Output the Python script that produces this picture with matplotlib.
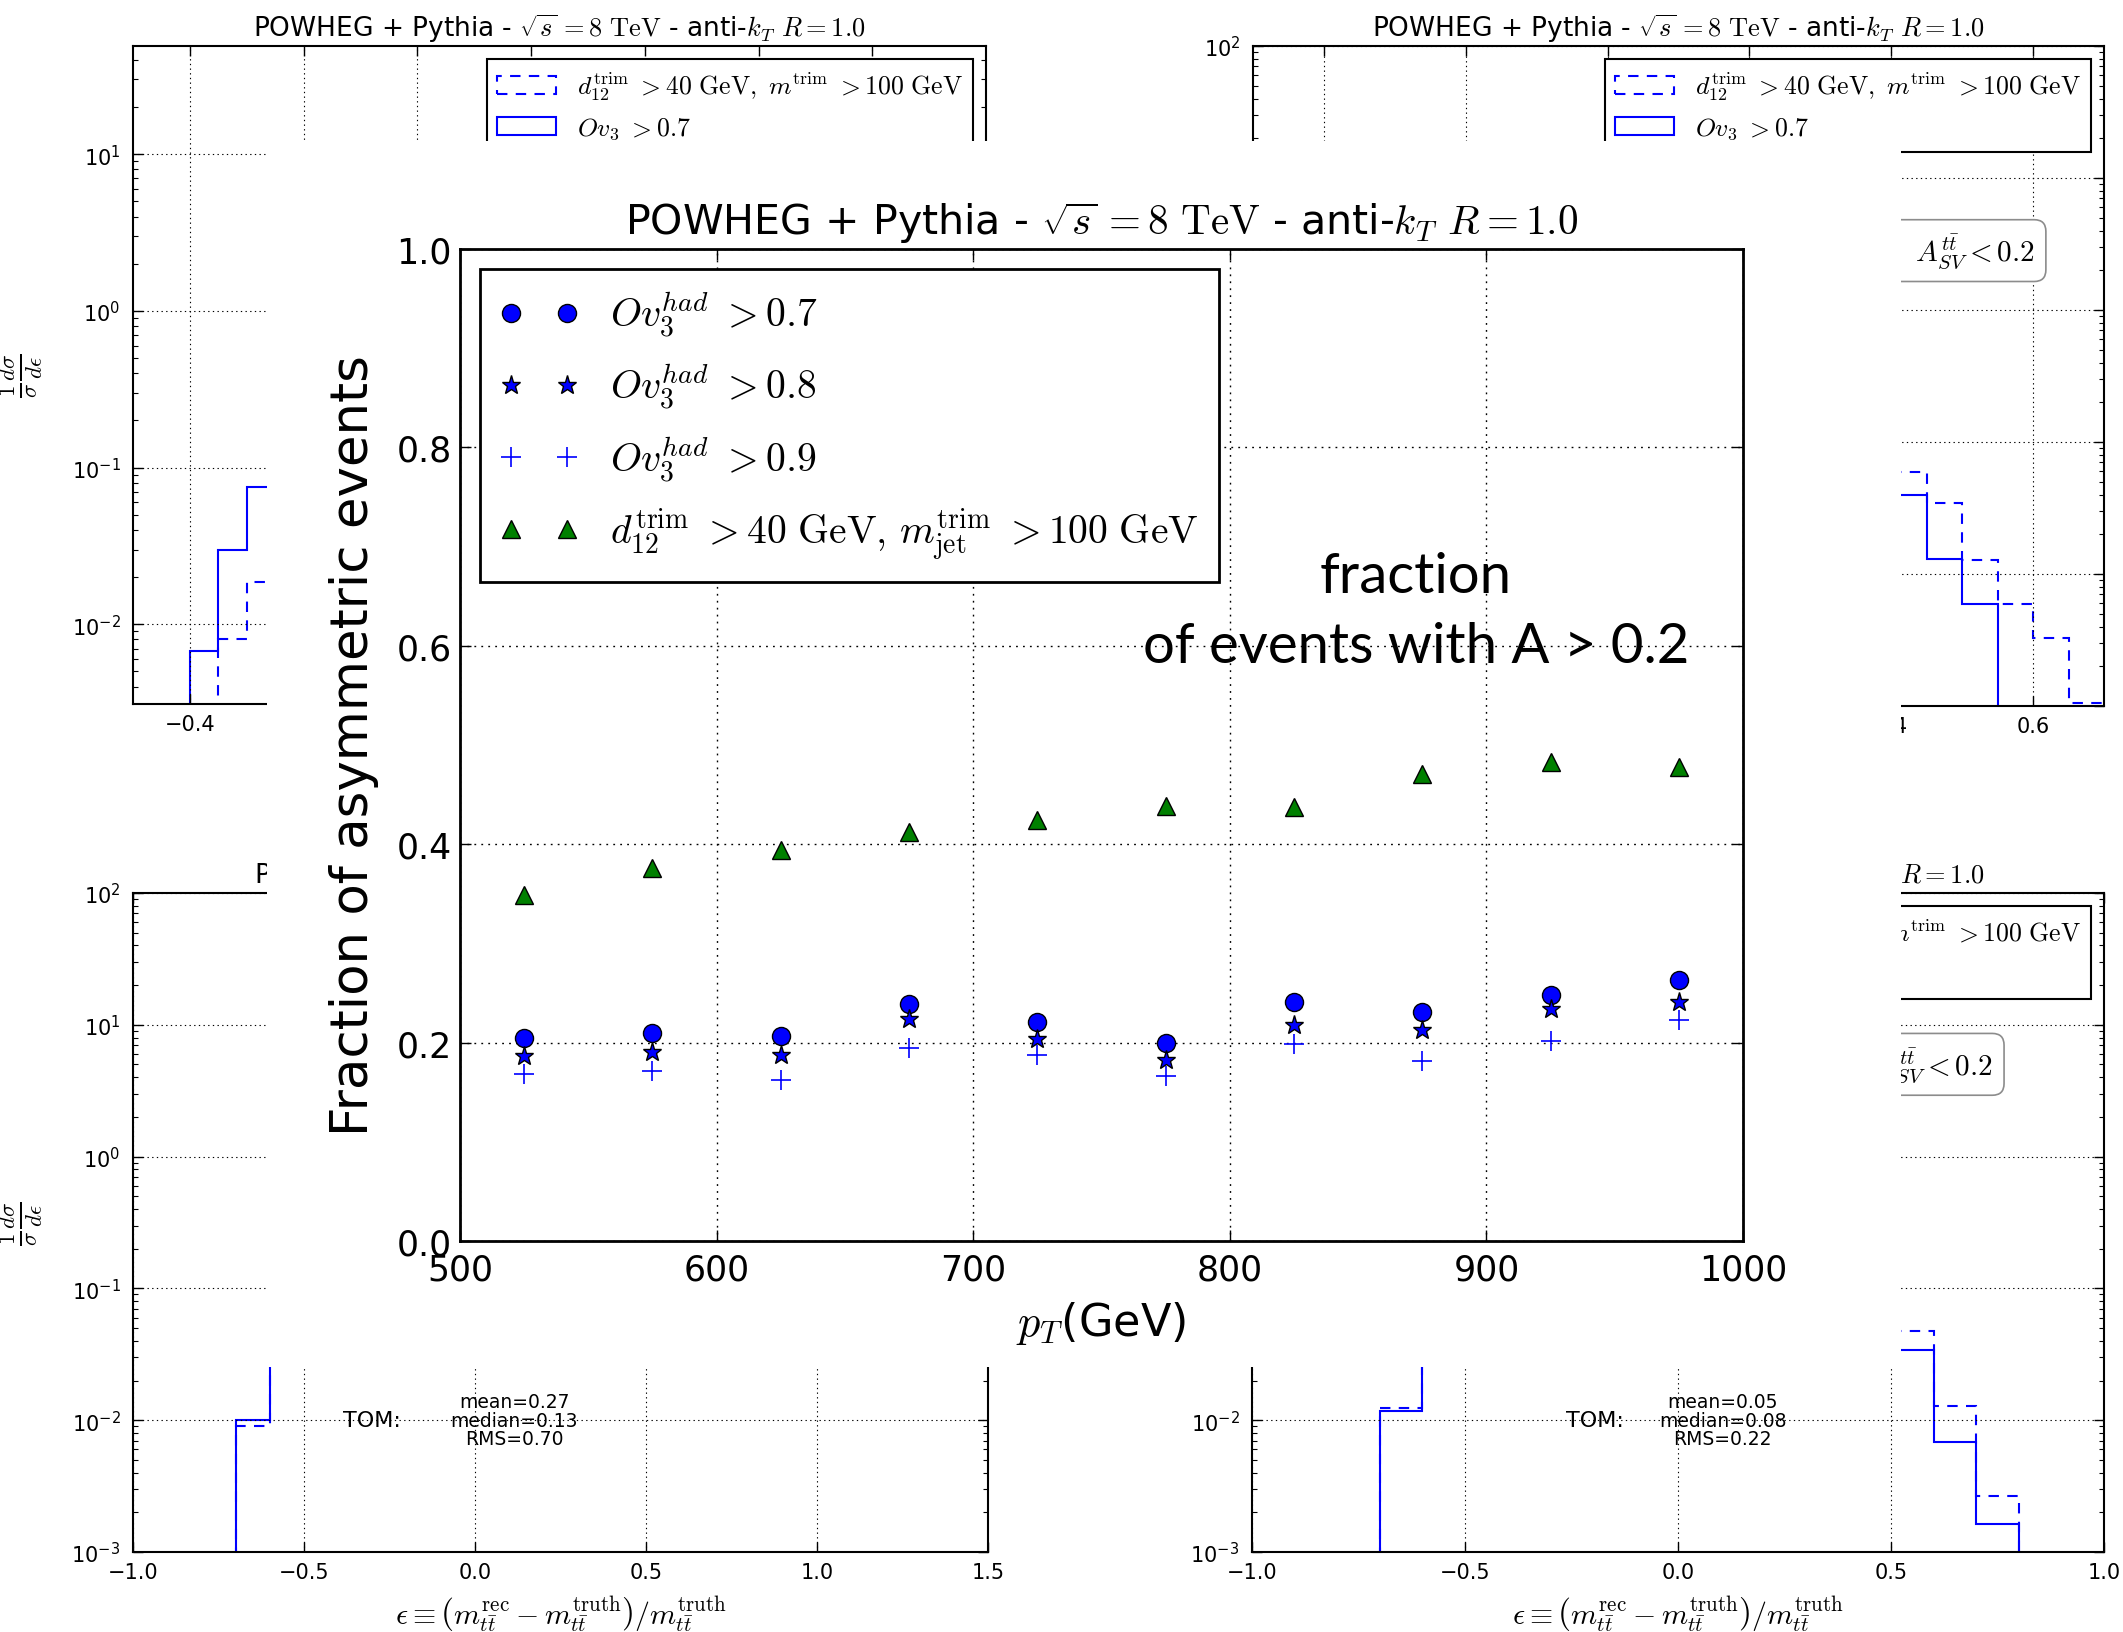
import numpy as np
import matplotlib
matplotlib.use('Agg')
import matplotlib.pyplot as plt
from matplotlib.patches import Rectangle, Patch

plt.rcParams['font.family'] = 'DejaVu Sans'
plt.rcParams['mathtext.fontset'] = 'cm'

# --- main plot: fraction of asymmetric events vs pT ---
pt_centres = [525, 575, 625, 675, 725, 775, 825, 875, 925, 975]
frac_ov07 = [0.205, 0.210, 0.207, 0.239, 0.221, 0.200, 0.241, 0.231, 0.248, 0.263]
frac_ov08 = [0.186, 0.191, 0.188, 0.224, 0.204, 0.182, 0.218, 0.213, 0.234, 0.241]
frac_ov09 = [0.168, 0.171, 0.162, 0.195, 0.188, 0.166, 0.199, 0.181, 0.202, 0.223]
frac_trim = [0.349, 0.376, 0.394, 0.412, 0.424, 0.439, 0.438, 0.471, 0.483, 0.478]

lab_ov07 = r'$Ov_3^{had}\ {>}0.7$'
lab_ov08 = r'$Ov_3^{had}\ {>}0.8$'
lab_ov09 = r'$Ov_3^{had}\ {>}0.9$'
lab_trim = r'$d_{12}^{\mathrm{trim}}\ {>}40\ \mathrm{GeV,}\,m_{\mathrm{jet}}^{\mathrm{trim}}\ {>}100\ \mathrm{GeV}$'

# --- background histograms (only the bits that stick out from under the overlay) ---
tl_solid_edges = [-0.45, -0.40, -0.35, -0.30, -0.25]
tl_solid_vals = [0.0, 0.0068, 0.0296, 0.0757]
tl_dash_edges = [-0.40, -0.35, -0.30, -0.25]
tl_dash_vals = [0.0, 0.0080, 0.0185]

tr_solid_edges = [0.40, 0.45, 0.50, 0.55, 0.60]
tr_solid_vals = [0.0397, 0.0131, 0.0059, 0.0]
tr_dash_edges = [0.40, 0.45, 0.50, 0.55, 0.60, 0.65, 0.70]
tr_dash_vals = [0.0593, 0.0345, 0.0128, 0.0059, 0.00327, 0.00105]

bl_edges = [-0.8, -0.7, -0.6, -0.5]
bl_solid_vals = [0.0, 0.0100, 0.05]
bl_dash_vals = [0.0, 0.0091, 0.05]

br_left_edges = [-0.8, -0.7, -0.6, -0.5]
br_left_solid = [0.0, 0.0117, 0.05]
br_left_dash = [0.0, 0.0124, 0.05]
br_right_edges = [0.5, 0.6, 0.7, 0.8, 0.9]
br_right_solid = [0.034, 0.0068, 0.00163, 0.0]
br_right_dash = [0.0472, 0.0128, 0.00268, 0.0]

bg_title = r'POWHEG + Pythia - $\sqrt{s}\,{=}8\ \mathrm{TeV}$ - anti-$k_T$ $R{=}1.0$'
bg_xlabel = (r'$\epsilon\equiv\left(m_{t\bar{t}}^{\mathrm{rec}}-m_{t\bar{t}}^{\mathrm{truth}}\right)'
             r'/m_{t\bar{t}}^{\mathrm{truth}}$')
bg_ylabel = r'$\frac{1}{\sigma}\frac{d\sigma}{d\epsilon}$'
lab_dash = r'$d_{12}^{\mathrm{trim}}\ {>}40\ \mathrm{GeV},\ m^{\mathrm{trim}}\ {>}100\ \mathrm{GeV}$'
lab_solid = r'$Ov_3\ {>}0.7$'
box_text = r'$Ov_3{>}0.7\ ,\ A_{SV}^{t\bar{t}}{<}0.2$'

DASH = (0, (5, 4))
DOTS = (0, (1.3, 3.7))
BLUE = '#0000ff'

W, H = 2123.0, 1633.0
fig = plt.figure(figsize=(W / 100, H / 100), dpi=100)


def px_rect(left, top, right, bottom):
    return [left / W, 1 - bottom / H, (right - left) / W, (bottom - top) / H]


def bg_panel(rect, xlim, ylim, xticks):
    a = fig.add_axes(rect, zorder=0)
    a.set_yscale('log')
    a.set_xlim(*xlim)
    a.set_ylim(*ylim)
    a.set_xticks(xticks)
    a.grid(True, which='major', ls=(0, (1.2, 3)), color='k', lw=0.8)
    a.tick_params(which='both', direction='in', top=True, right=True, labelsize=15)
    a.tick_params(which='major', length=7, width=1)
    a.tick_params(axis='y', which='major', pad=9)
    a.tick_params(axis='x', which='major', pad=7)
    a.tick_params(which='minor', length=3.5, width=0.8)
    for s in a.spines.values():
        s.set_linewidth(1.5)
    a.set_title(bg_title, fontsize=19, pad=7)
    a.set_ylabel(bg_ylabel, fontsize=23.5)
    a.yaxis.set_label_coords(-0.103, 0.5)
    a.set_xlabel(bg_xlabel, fontsize=21.5)
    a.xaxis.set_label_coords(0.5, -0.062)
    return a


def bg_legend(a):
    handles = [Patch(facecolor='none', edgecolor=BLUE, lw=1.5, ls=DASH),
               Patch(facecolor='none', edgecolor=BLUE, lw=1.5)]
    leg = a.legend(handles, [lab_dash, lab_solid], loc='upper right', fontsize=18.5,
                   handlelength=2.3, fancybox=False, edgecolor='k', framealpha=1)
    leg.get_frame().set_linewidth(1.5)


def bg_box(a, x, y):
    a.text(x, y, box_text, transform=a.transAxes, ha='right', va='center', fontsize=21,
           bbox=dict(boxstyle='round,pad=0.4', fc='white', ec='0.55', lw=1.2))


ax_tl = bg_panel(px_rect(133, 47, 986, 705), (-0.5, 1.0), (3.1e-3, 49),
                 [-0.4, -0.2, 0.0, 0.2, 0.4, 0.6, 0.8])
ax_tl.stairs(tl_dash_vals, tl_dash_edges, baseline=None, color=BLUE, lw=1.5, ls=DASH)
ax_tl.stairs(tl_solid_vals, tl_solid_edges, baseline=None, color=BLUE, lw=1.5)
bg_legend(ax_tl)

ax_tr = bg_panel(px_rect(1253, 47, 2104, 707), (-0.5, 0.7), (1e-3, 1e2),
                 [-0.4, -0.2, 0.0, 0.2, 0.4, 0.6])
ax_tr.stairs(tr_dash_vals, tr_dash_edges, baseline=None, color=BLUE, lw=1.5, ls=DASH)
ax_tr.stairs(tr_solid_vals, tr_solid_edges, baseline=None, color=BLUE, lw=1.5)
bg_legend(ax_tr)
bg_box(ax_tr, 0.918, 0.690)

ax_bl = bg_panel(px_rect(133, 894, 988, 1553), (-1.0, 1.5), (1e-3, 1e2),
                 [-1.0, -0.5, 0.0, 0.5, 1.0, 1.5])
ax_bl.stairs(bl_dash_vals, bl_edges, baseline=None, color=BLUE, lw=1.5, ls=DASH)
ax_bl.stairs(bl_solid_vals, bl_edges, baseline=None, color=BLUE, lw=1.5)
bg_legend(ax_bl)
ax_bl.text(-0.30, 0.01, 'TOM:', ha='center', va='center', fontsize=16)
ax_bl.text(0.115, 0.01, 'mean=0.27\nmedian=0.13\nRMS=0.70', ha='center', va='center',
           fontsize=13.5, linespacing=0.95)

ax_br = bg_panel(px_rect(1252, 894, 2104, 1553), (-1.0, 1.0), (1e-3, 1e2),
                 [-1.0, -0.5, 0.0, 0.5, 1.0])
ax_br.stairs(br_left_dash, br_left_edges, baseline=None, color=BLUE, lw=1.5, ls=DASH)
ax_br.stairs(br_left_solid, br_left_edges, baseline=None, color=BLUE, lw=1.5)
ax_br.stairs(br_right_dash, br_right_edges, baseline=None, color=BLUE, lw=1.5, ls=DASH)
ax_br.stairs(br_right_solid, br_right_edges, baseline=None, color=BLUE, lw=1.5)
bg_legend(ax_br)
bg_box(ax_br, 0.869, 0.740)
ax_br.text(-0.196, 0.01, 'TOM:', ha='center', va='center', fontsize=16)
ax_br.text(0.105, 0.01, 'mean=0.05\nmedian=0.08\nRMS=0.22', ha='center', va='center',
           fontsize=13.5, linespacing=0.95)

# white slide box that hides most of the four histograms
fig.add_artist(Rectangle((267 / W, 1 - 1368 / H), (1901 - 267) / W, (1368 - 142) / H,
                         transform=fig.transFigure, fc='white', ec='none', zorder=1))

# --- main axes ---
ax = fig.add_axes(px_rect(460, 250, 1743, 1242), zorder=2)
ax.plot(pt_centres, frac_ov07, 'o', color=BLUE, mec='k', mew=1, ms=13, label=lab_ov07)
ax.plot(pt_centres, frac_ov08, '*', color=BLUE, mec='k', mew=1, ms=14, label=lab_ov08)
ax.plot(pt_centres, frac_ov09, '+', color=BLUE, mew=1.2, ms=14, label=lab_ov09)
ax.plot(pt_centres, frac_trim, '^', color='#008000', mec='k', mew=1, ms=13, label=lab_trim)
ax.set_xlim(500, 1000)
ax.set_ylim(0, 1.0)
ax.set_xticks([500, 600, 700, 800, 900, 1000])
ax.set_yticks([0.0, 0.2, 0.4, 0.6, 0.8, 1.0])
ax.grid(True, ls=DOTS, color='k', lw=1)
ax.tick_params(direction='in', top=True, right=True, labelsize=25, length=8, width=1)
ax.tick_params(axis='x', pad=8)
ax.tick_params(axis='y', pad=6)
for s in ax.spines.values():
    s.set_linewidth(2)
ax.set_title(r'POWHEG + Pythia - $\sqrt{s}\,{=}8\ \mathrm{TeV}$ - anti-$k_T$ $R{=}1.0$',
             fontsize=29.6, pad=11)
ax.set_ylabel('Fraction of asymmetric events', fontsize=37)
ax.yaxis.set_label_coords(-0.063, 0.5)
ax.set_xlabel(r'$p_T$(GeV)', fontsize=32)
ax.xaxis.set_label_coords(0.5, -0.058)
leg = ax.legend(loc='upper left', numpoints=2, fontsize=28.5, fancybox=False, edgecolor='k',
                framealpha=1, labelspacing=0.55, borderpad=0.5)
leg.get_frame().set_linewidth(2)

# slide annotation
fig.text(1416 / W, 1 - 593 / H, 'fraction', family='Lato', fontsize=40.5, ha='center',
         va='baseline', zorder=3)
fig.text(1416 / W, 1 - 663 / H, 'of events with A > 0.2', family='Lato', fontsize=40.5,
         ha='center', va='baseline', zorder=3)

fig.savefig('out.png', dpi=100)
